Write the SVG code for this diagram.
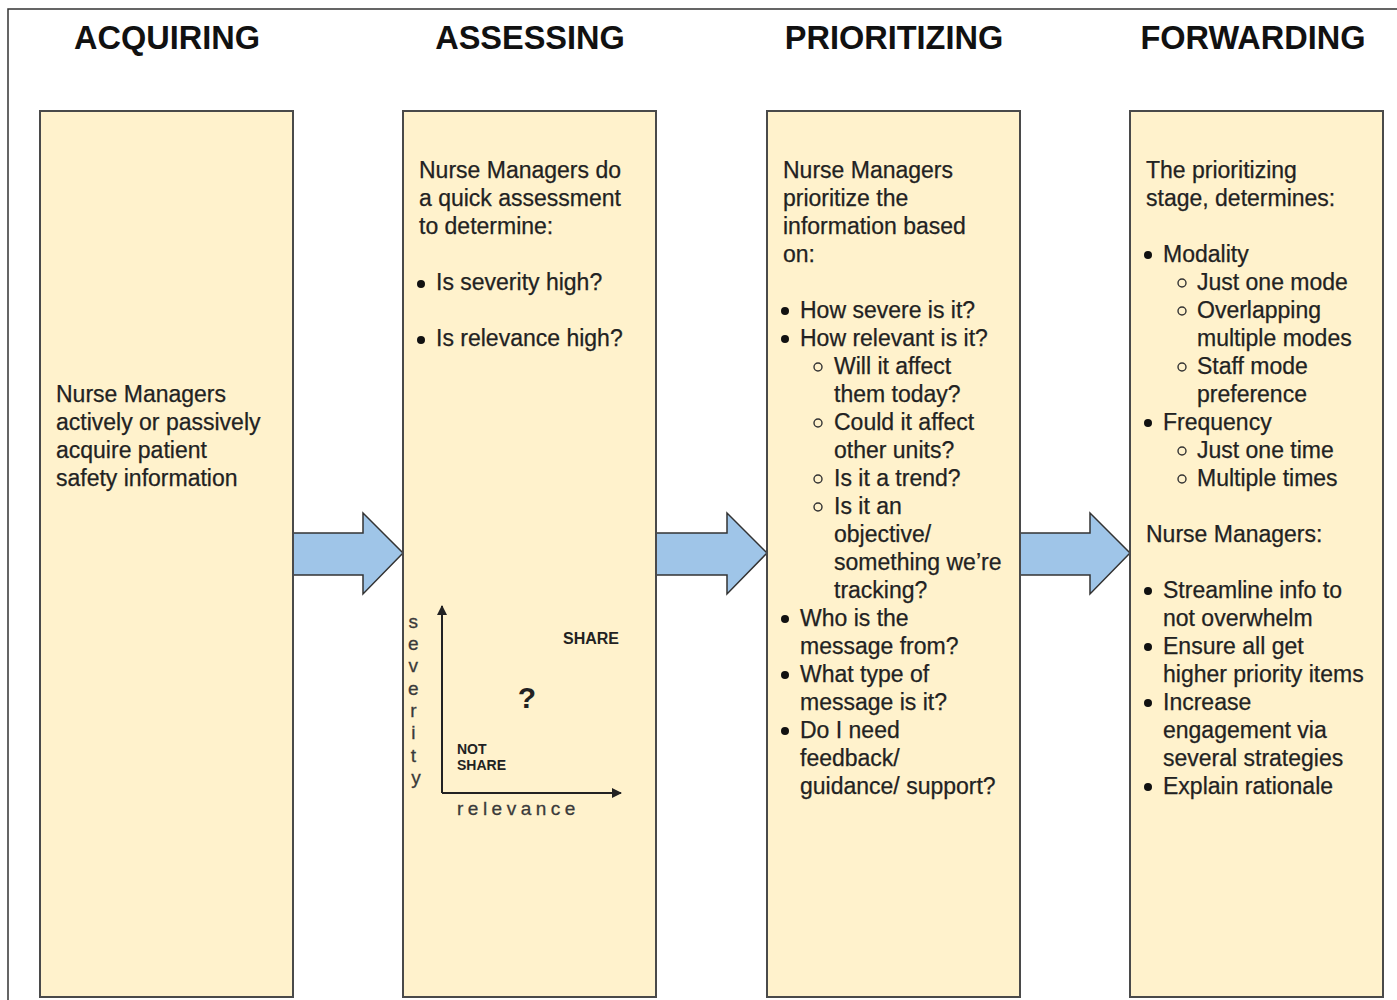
<svg xmlns="http://www.w3.org/2000/svg" width="1397" height="1000" viewBox="0 0 1397 1000">
  <defs>
    <style>
      .frame { fill: none; stroke: #333; stroke-width: 1.5; }
      .stage { fill: #fff2cc; stroke: #4a4a4a; stroke-width: 2; }
      .flow { fill: #9fc5e8; stroke: #333; stroke-width: 1.5; stroke-linejoin: miter; }
      .head { font-family: "Liberation Sans", Arial, sans-serif; font-weight: bold; font-size: 32.5px; fill: #111; text-anchor: middle; }
      .body { font-family: "Liberation Sans", Arial, sans-serif; font-size: 23px; fill: #222; stroke: #222; stroke-width: 0.25; }
      .dot { fill: #111; }
      .ring { fill: none; stroke: #333; stroke-width: 1.4; }
      .axis { stroke: #222; stroke-width: 2; fill: none; }
      .axlbl { font-family: "Liberation Sans", Arial, sans-serif; font-size: 19px; fill: #3a3a3a; stroke: #3a3a3a; stroke-width: 0.3; }
      .zone { font-family: "Liberation Sans", Arial, sans-serif; font-weight: bold; fill: #222; }
    </style>
    <marker id="tip" viewBox="0 0 10 10" refX="9" refY="5" markerWidth="5" markerHeight="5" orient="auto" markerUnits="strokeWidth">
      <path d="M0,0 L10,5 L0,10 Z" fill="#222"/>
    </marker>
  </defs>

  <rect width="1397" height="1000" fill="#fff"/>
  <!-- outer page frame -->
  <path class="frame" d="M8,1000 V9 H1397"/>

  <!-- stage titles -->
  <g id="titles">
    <text class="head" x="167" y="49">ACQUIRING</text>
    <text class="head" x="530" y="49">ASSESSING</text>
    <text class="head" x="894" y="49">PRIORITIZING</text>
    <text class="head" x="1253" y="49">FORWARDING</text>
  </g>

  <!-- block arrows between stages -->
  <g id="connectors">
    <path class="flow" d="M293,533 H363 V513 L403,553 L363,594 V575 H293 Z"/>
    <path class="flow" d="M656,533 H727 V513 L767,553 L727,594 V575 H656 Z"/>
    <path class="flow" d="M1020,533 H1090 V513 L1130,553 L1090,594 V575 H1020 Z"/>
  </g>

  <!-- ACQUIRING -->
  <g id="acquiring">
    <rect class="stage" x="40" y="111" width="253" height="886"/>
    <text class="body">
      <tspan x="56" y="402">Nurse Managers</tspan>
      <tspan x="56" y="430">actively or passively</tspan>
      <tspan x="56" y="458">acquire patient</tspan>
      <tspan x="56" y="486">safety information</tspan>
    </text>
  </g>

  <!-- ASSESSING -->
  <g id="assessing">
    <rect class="stage" x="403" y="111" width="253" height="886"/>
    <text class="body">
      <tspan x="419" y="178">Nurse Managers do</tspan>
      <tspan x="419" y="206">a quick assessment</tspan>
      <tspan x="419" y="234">to determine:</tspan>
      <tspan x="436" y="290">Is severity high?</tspan>
      <tspan x="436" y="346">Is relevance high?</tspan>
    </text>
    <circle class="dot" cx="421" cy="284" r="4"/>
    <circle class="dot" cx="421" cy="340" r="4"/>

    <!-- severity / relevance chart -->
    <g id="chart">
      <path class="axis" d="M442,793 V606" marker-end="url(#tip)"/>
      <path class="axis" d="M442,793 H621" marker-end="url(#tip)"/>
      <text class="axlbl" text-anchor="middle">
        <tspan x="416" y="628">s</tspan>
        <tspan x="416" y="650">e</tspan>
        <tspan x="416" y="672">v</tspan>
        <tspan x="416" y="695">e</tspan>
        <tspan x="416" y="717">r</tspan>
        <tspan x="416" y="739">i</tspan>
        <tspan x="416" y="762">t</tspan>
        <tspan x="416" y="784">y</tspan>
      </text>
      <text class="axlbl" x="457" y="815" letter-spacing="4.5">relevance</text>
      <text class="zone" x="563" y="644" font-size="16px">SHARE</text>
      <text class="zone" x="527" y="708" font-size="30px" text-anchor="middle">?</text>
      <text class="zone" font-size="14px">
        <tspan x="457" y="754">NOT</tspan>
        <tspan x="457" y="770">SHARE</tspan>
      </text>
    </g>
  </g>

  <!-- PRIORITIZING -->
  <g id="prioritizing">
    <rect class="stage" x="767" y="111" width="253" height="886"/>
    <text class="body">
      <tspan x="783" y="178">Nurse Managers</tspan>
      <tspan x="783" y="206">prioritize the</tspan>
      <tspan x="783" y="234">information based</tspan>
      <tspan x="783" y="262">on:</tspan>
      <tspan x="800" y="318">How severe is it?</tspan>
      <tspan x="800" y="346">How relevant is it?</tspan>
      <tspan x="834" y="374">Will it affect</tspan>
      <tspan x="834" y="402">them today?</tspan>
      <tspan x="834" y="430">Could it affect</tspan>
      <tspan x="834" y="458">other units?</tspan>
      <tspan x="834" y="486">Is it a trend?</tspan>
      <tspan x="834" y="514">Is it an</tspan>
      <tspan x="834" y="542">objective/</tspan>
      <tspan x="834" y="570">something we’re</tspan>
      <tspan x="834" y="598">tracking?</tspan>
      <tspan x="800" y="626">Who is the</tspan>
      <tspan x="800" y="654">message from?</tspan>
      <tspan x="800" y="682">What type of</tspan>
      <tspan x="800" y="710">message is it?</tspan>
      <tspan x="800" y="738">Do I need</tspan>
      <tspan x="800" y="766">feedback/</tspan>
      <tspan x="800" y="794">guidance/ support?</tspan>
    </text>
    <circle class="dot" cx="785" cy="311" r="4"/>
    <circle class="dot" cx="785" cy="339" r="4"/>
    <circle class="ring" cx="818" cy="367" r="4"/>
    <circle class="ring" cx="818" cy="423" r="4"/>
    <circle class="ring" cx="818" cy="479" r="4"/>
    <circle class="ring" cx="818" cy="507" r="4"/>
    <circle class="dot" cx="785" cy="619" r="4"/>
    <circle class="dot" cx="785" cy="675" r="4"/>
    <circle class="dot" cx="785" cy="731" r="4"/>
  </g>

  <!-- FORWARDING -->
  <g id="forwarding">
    <rect class="stage" x="1130" y="111" width="253" height="886"/>
    <text class="body">
      <tspan x="1146" y="178">The prioritizing</tspan>
      <tspan x="1146" y="206">stage, determines:</tspan>
      <tspan x="1163" y="262">Modality</tspan>
      <tspan x="1197" y="290">Just one mode</tspan>
      <tspan x="1197" y="318">Overlapping</tspan>
      <tspan x="1197" y="346">multiple modes</tspan>
      <tspan x="1197" y="374">Staff mode</tspan>
      <tspan x="1197" y="402">preference</tspan>
      <tspan x="1163" y="430">Frequency</tspan>
      <tspan x="1197" y="458">Just one time</tspan>
      <tspan x="1197" y="486">Multiple times</tspan>
      <tspan x="1146" y="542">Nurse Managers:</tspan>
      <tspan x="1163" y="598">Streamline info to</tspan>
      <tspan x="1163" y="626">not overwhelm</tspan>
      <tspan x="1163" y="654">Ensure all get</tspan>
      <tspan x="1163" y="682">higher priority items</tspan>
      <tspan x="1163" y="710">Increase</tspan>
      <tspan x="1163" y="738">engagement via</tspan>
      <tspan x="1163" y="766">several strategies</tspan>
      <tspan x="1163" y="794">Explain rationale</tspan>
    </text>
    <circle class="dot" cx="1148" cy="255" r="4"/>
    <circle class="ring" cx="1182" cy="283" r="4"/>
    <circle class="ring" cx="1182" cy="311" r="4"/>
    <circle class="ring" cx="1182" cy="367" r="4"/>
    <circle class="dot" cx="1148" cy="423" r="4"/>
    <circle class="ring" cx="1182" cy="451" r="4"/>
    <circle class="ring" cx="1182" cy="479" r="4"/>
    <circle class="dot" cx="1148" cy="591" r="4"/>
    <circle class="dot" cx="1148" cy="647" r="4"/>
    <circle class="dot" cx="1148" cy="703" r="4"/>
    <circle class="dot" cx="1148" cy="787" r="4"/>
  </g>
</svg>
